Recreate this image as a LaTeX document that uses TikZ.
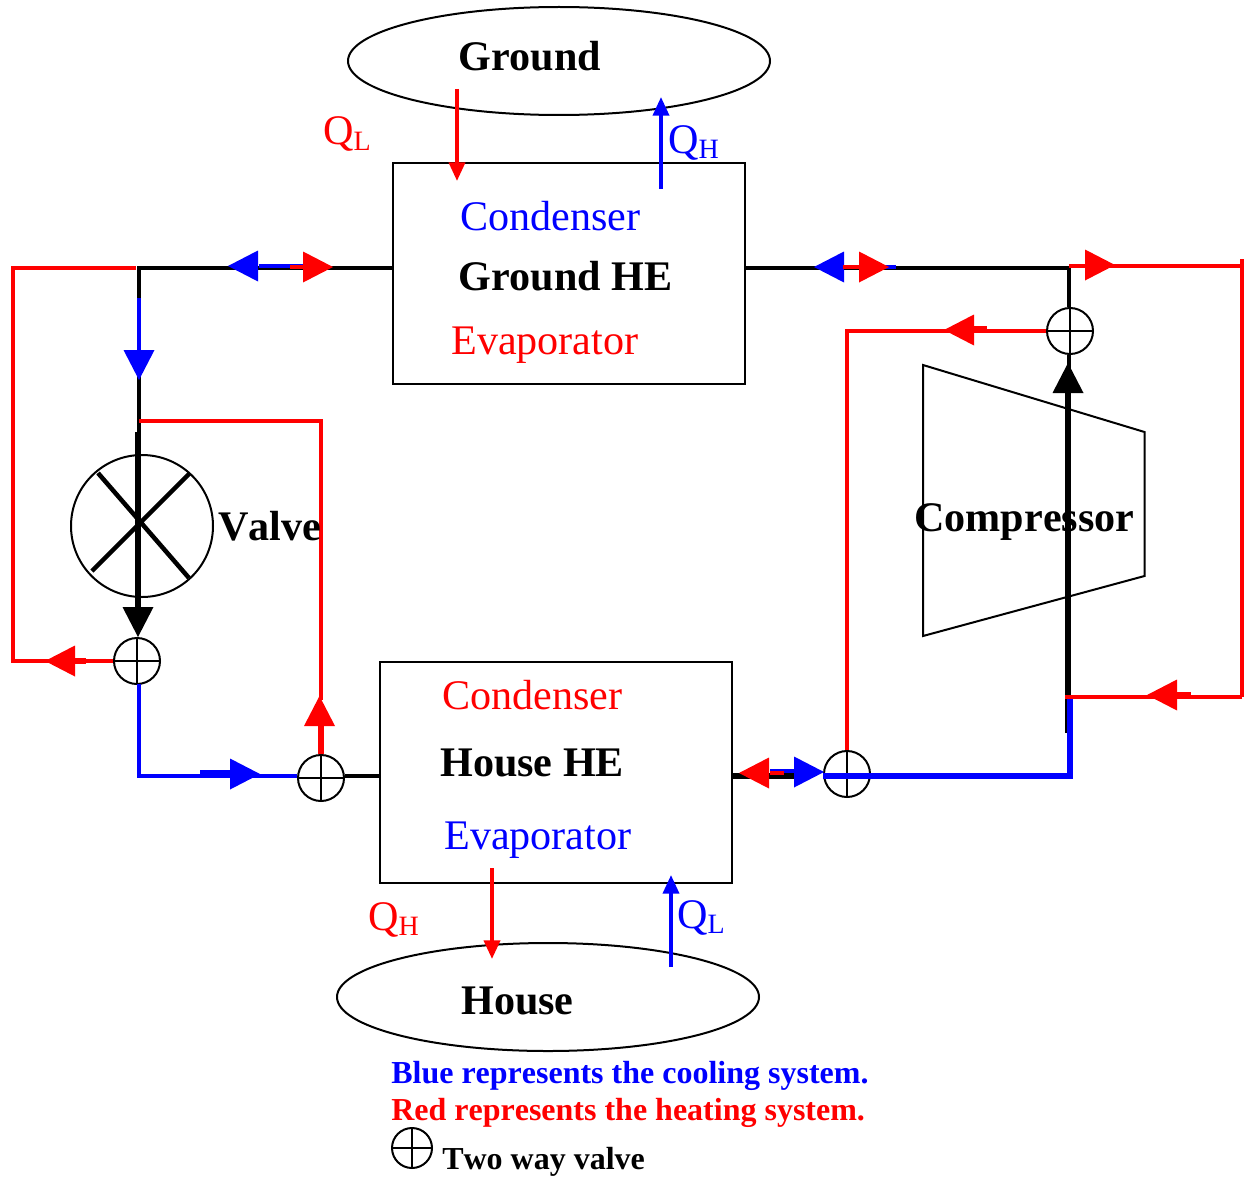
\documentclass[tikz,border=0pt]{standalone}
\usepackage{fontspec}
\setmainfont[Kerning=Off]{Liberation Serif}
\usetikzlibrary{arrows.meta,shapes.geometric}
\definecolor{rd}{RGB}{255,0,0}
\definecolor{bl}{RGB}{0,0,255}
\newcommand{\tri}[4]{\fill[#4,shift={(#1,#2)},rotate=#3] (0,0) -- (-30,15.5) -- (-30,-15.5) -- cycle;}
\newcommand{\bigtxt}{\fontsize{31.6}{34}\selectfont}
\newcommand{\smalltxt}{\fontsize{24}{26}\selectfont}
\tikzset{
  txt/.style={anchor=base west,inner sep=0pt,font=\bigtxt},
  ltxt/.style={anchor=base west,inner sep=0pt,font=\smalltxt\bfseries},
  hebox/.style={draw,line width=1.5pt,minimum width=264pt,minimum height=165.75pt,inner sep=0pt},
  earth/.style={draw,ellipse,line width=1.5pt,minimum width=316.5pt,minimum height=81pt,inner sep=0pt},
  twoway/.style={draw,circle,line width=1.5pt,minimum size=34.5pt,inner sep=0pt,
    path picture={\draw[line width=1.3pt] (path picture bounding box.north) -- (path picture bounding box.south)
      (path picture bounding box.west) -- (path picture bounding box.east);}},
  pipe/.style={line width=3pt},
  cpipe/.style={line width=3.4pt},
  thick pipe/.style={line width=4.5pt},
  heat/.style={line width=2.8pt,-{Triangle[length=14pt,width=12pt]}},
}
\begin{document}
\begin{tikzpicture}[x=0.75pt,y=-0.75pt]
\useasboundingbox (0,0) rectangle (1244,1177);
% boxes and ellipses
\node[earth] (ground) at (559,61) {};
\node[earth] (house) at (548,997) {};
\node[hebox] (ghe) at (569,273.5) {};
\node[hebox] (hhe) at (556,772.5) {};
\draw[line width=1.5pt] (923,365) -- (1144.5,432) -- (1144.5,576) -- (923,636) -- cycle;
% valves
\node[twoway] (v1) at (137,661) {};
\node[twoway] (v2) at (321,778) {};
\node[twoway] (v3) at (847,774) {};
\node[twoway] (v4) at (1070,331) {};
\node[twoway,minimum size=30pt] (vleg) at (412,1148) {};
\node[draw,circle,line width=1.5pt,minimum size=106.5pt,inner sep=0pt] (valve) at (142,526) {};
\draw[line width=3.4pt] (98,473) -- (189,578) (190,473) -- (92,571);
% coordinates
\coordinate (tl) at (139,268);
\coordinate (tr) at (1069,268);
\coordinate (ghl) at (393,268);
\coordinate (ghr) at (745,268);
\coordinate (hhl) at (380,776);
\coordinate (hhr) at (732,776);
% black pipes
\draw[pipe] (ghl) -- (tl) -- (139,432);
\draw[thick pipe] (138,432) -- (138,612);
\tri{138}{637}{-90}{black}
\draw[pipe] (ghr) -- (tr) -- (tr |- v4.north);
\draw[pipe] (tr |- v4.south) -- (1069,375);
\draw[thick pipe] (1068,390) -- (1068,733);
\tri{1068}{363}{90}{black}
\draw[pipe] (v2.east |- hhl) -- (hhl);
\draw[thick pipe] (hhr) -- (800,776);
% blue pipes
\draw[pipe,bl] (139,298) -- (139,352);
\tri{139}{380}{-90}{bl}
\draw[pipe,bl] (259,266) -- (303,266);
\tri{228}{266}{180}{bl}
\draw[cpipe,bl] (139,684) -- (139,776) -- (v2.west |- hhl);
\draw[thick pipe,bl] (200,773) -- (232,773);
\tri{260}{774}{0}{bl}
\draw[pipe,bl] (880,267) -- (896,267);
\tri{814}{267}{180}{bl}
\draw[line width=3.8pt,bl] (1070,698) -- (1070,776) -- (v3.west |- hhr);
\draw[pipe,bl] (770,771) -- (796,771);
\tri{824}{772}{0}{bl}
% red pipes
\draw[cpipe,rd,line join=miter] (136,268) -- (13,268) -- (13,661) -- (v1.west);
\draw[thick pipe,rd] (70,661) -- (86,661);
\tri{45}{661}{180}{rd}
\draw[pipe,rd] (290,267) -- (305,267);
\tri{333}{267}{0}{rd}
\draw[cpipe,rd] (139,421) -- (321,421) -- (321,700);
\tri{319.5}{696}{90}{rd}
\draw[line width=4pt,rd] (v2.north) -- (321,725);
\draw[pipe,rd] (843,267) -- (860,267);
\tri{889}{267}{0}{rd}
\draw[pipe,rd] (1069,266) -- (1242,266);
\tri{1115}{265}{0}{rd}
\draw[line width=3pt,rd] (1242,259) -- (1242,697);
\draw[pipe,rd] (1242,697) -- (1065,697);
\draw[thick pipe,rd] (1175,695) -- (1191,695);
\tri{1147}{695}{180}{rd}
\draw[line width=3.6pt,rd] (v4.west) -- (847,331) -- (v3.north);
\draw[thick pipe,rd] (970,329) -- (987,329);
\tri{944}{330}{180}{rd}
\draw[pipe,rd] (770,773) -- (784,773);
\tri{739}{773}{180}{rd}
% heat flows
\draw[heat,rd] (457,89) -- (457,181);
\draw[heat,bl] (661,189) -- (661,97);
\draw[heat,rd] (492,868) -- (492,959);
\draw[heat,bl] (671,967) -- (671,875);
% text
\node[txt,font=\bigtxt\bfseries] (t1) at (458,71) {Ground};
\node[txt,bl] (t2) at (460,230) {Condenser};
\node[txt,font=\bigtxt\bfseries] (t3) at (458,290) {Ground HE};
\node[txt,rd] (t4) at (451,354) {Evaporator};
\node[txt,font=\bigtxt\bfseries] (t5) at (218,540) {Valve};
\node[txt,font=\bigtxt\bfseries] (t6) at (914,531) {Compressor};
\node[txt,rd] (t7) at (442,709) {Condenser};
\node[txt,font=\bigtxt\bfseries] (t8) at (440,776) {House HE};
\node[txt,bl] (t9) at (444,849) {Evaporator};
\node[txt,font=\bigtxt\bfseries] (t10) at (461,1014) {House};
\node[txt,rd] (q1) at (323,145) {Q\fontsize{21}{23}\selectfont\raisebox{-4pt}{L}};
\node[txt,bl] (q2) at (668,153) {Q\fontsize{21}{23}\selectfont\raisebox{-4pt}{H}};
\node[txt,rd] (q3) at (368,930) {Q\fontsize{21}{23}\selectfont\raisebox{-4pt}{H}};
\node[txt,bl] (q4) at (677,928) {Q\fontsize{21}{23}\selectfont\raisebox{-4pt}{L}};
\node[ltxt,bl] (l1) at (391,1083) {Blue represents the cooling system.};
\node[ltxt,rd] (l2) at (391,1120) {Red represents the heating system.};
\node[ltxt] (l3) at (442,1169) {Two way valve};
\end{tikzpicture}
\end{document}
